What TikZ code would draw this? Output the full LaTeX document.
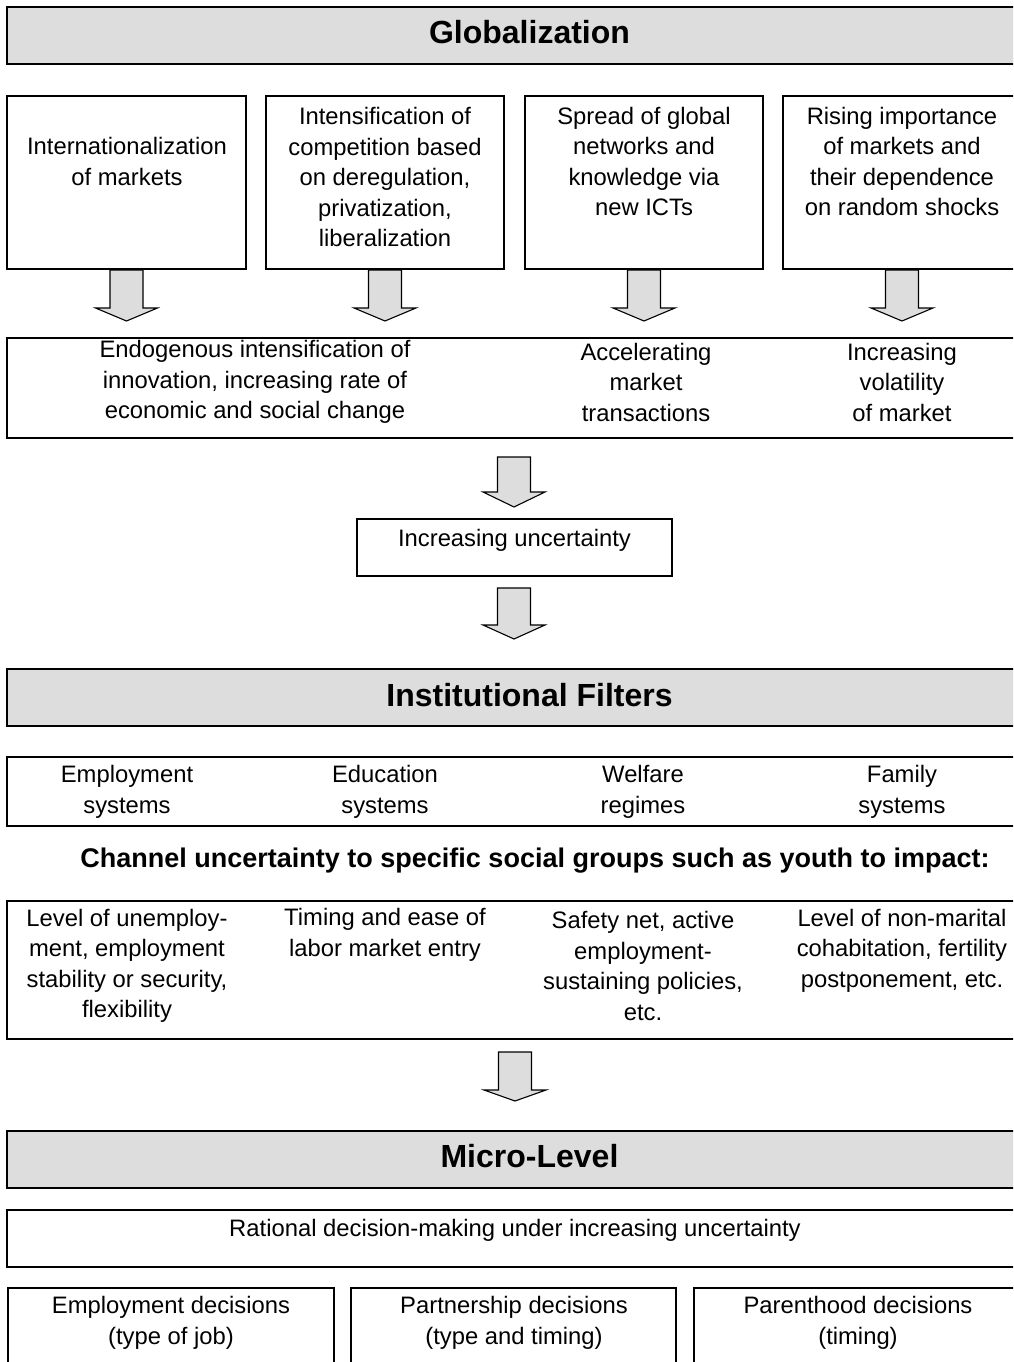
\documentclass[tikz,border=0pt]{standalone}
\usepackage{fontspec}
\setmainfont{Liberation Sans}
\usepackage{xcolor}

\definecolor{boxgray}{RGB}{221,221,221}
\newcommand{\bodyfont}{\fontsize{23.8}{30.5}\selectfont}
\newcommand{\headfont}{\fontsize{32}{38}\selectfont\bfseries}

\tikzset{
  head/.style={draw,line width=2pt,fill=boxgray,inner sep=0pt,font=\headfont,
    minimum width=1045pt,minimum height=57pt,text height=23pt,text depth=6pt},
  frame/.style={draw,line width=2pt,inner sep=0pt},
  thinframe/.style={draw,line width=1.5pt,inner sep=0pt},
  txt/.style={font=\bodyfont,align=center,inner sep=0pt},
  pics/downarrow/.style 2 args={code={
    \draw[fill=boxgray,line width=1.1pt] (-16.5,0) -- (-16.5,#1) -- (-31,#1) -- (0,#1+#2)
      -- (31,#1) -- (16.5,#1) -- (16.5,0) -- cycle;
  }}
}

\begin{document}
\begin{tikzpicture}[x=1pt,y=-1pt]
\clip (0,0) rectangle (1013,1362);

\node[head] (glob) at (529.5,35.5) {Globalization};

\node[frame,minimum width=239pt,minimum height=173pt] (b1) at (126.5,182.5) {};
\node[frame,minimum width=238pt,minimum height=173pt] (b2) at (385,182.5) {};
\node[frame,minimum width=238pt,minimum height=173pt] (b3) at (644,182.5) {};
\node[frame,minimum width=238pt,minimum height=173pt] (b4) at (902,182.5) {};
\node[txt] (t1) at (127,161.5) {Internationalization\\of markets};
\node[txt] (t2) at (385,177) {Intensification of\\competition based\\on deregulation,\\privatization,\\liberalization};
\node[txt] (t3) at (644,161.5) {Spread of global\\networks and\\knowledge via\\new ICTs};
\node[txt] (t4) at (902,161.5) {Rising importance\\of markets and\\their dependence\\on random shocks};

\pic at (b1.south) {downarrow={38}{13}};
\pic at (b2.south) {downarrow={38}{13}};
\pic at (b3.south) {downarrow={38}{13}};
\pic at (b4.south) {downarrow={38}{13}};

\node[frame,minimum width=1045pt,minimum height=100pt] (r2) at (529.5,388) {};
\node[txt] (e1) at (255,382) {Endogenous intensification of\\innovation, increasing rate of\\economic and social change};
\node[txt] (e2) at (646,382) {Accelerating\\market\\transactions};
\node[txt] (e3) at (902,382) {Increasing\\volatility\\of market};

\pic at (514,457) {downarrow={35}{15}};

\node[frame,minimum width=315pt,minimum height=57pt] (unc) at (514.5,547.5) {};
\node[txt] (unct) at (514.5,540) {Increasing uncertainty};

\pic at (514,588) {downarrow={37}{14}};

\node[head] (inst) at (529.5,697.5) {Institutional Filters};

\node[frame,minimum width=1045pt,minimum height=69pt] (filt) at (529.5,791.5) {};
\node[txt] (f1) at (127,792) {Employment\\systems};
\node[txt] (f2) at (385,792) {Education\\systems};
\node[txt] (f3) at (643,792) {Welfare\\regimes};
\node[txt] (f4) at (902,792) {Family\\systems};

\node[font=\fontsize{27}{32}\selectfont\bfseries,inner sep=0pt] (chan) at (535,861)
  {Channel uncertainty to specific social groups such as youth to impact:};

\node[frame,minimum width=1045pt,minimum height=138pt] (imp) at (529.5,970) {};
\node[txt] (i1) at (127,966) {Level of unemploy-\\ment, employment\\stability or security,\\flexibility};
\node[txt] (i2) at (385,935) {Timing and ease of\\labor market entry};
\node[txt] (i3) at (643,966) {Safety net, active\\employment-\\sustaining policies,\\etc.};
\node[txt] (i4) at (902,950.5) {Level of non-marital\\cohabitation, fertility\\postponement, etc.};

\pic at (515,1052) {downarrow={38}{11}};

\node[head] (micro) at (529.5,1159) {Micro-Level};

\node[frame,minimum width=1045pt,minimum height=57pt] (rat) at (529.5,1238.5) {};
\node[txt] (ratt) at (515,1230) {Rational decision-making under increasing uncertainty};

\node[thinframe,minimum width=326pt,minimum height=132pt] (d1) at (171,1354) {};
\node[thinframe,minimum width=325pt,minimum height=132pt] (d2) at (513.5,1354) {};
\node[thinframe,minimum width=326pt,minimum height=132pt] (d3) at (857,1354) {};
\node[txt] (d1t) at (171,1323) {Employment decisions\\(type of job)};
\node[txt] (d2t) at (514,1323) {Partnership decisions\\(type and timing)};
\node[txt] (d3t) at (858,1323) {Parenthood decisions\\(timing)};

\end{tikzpicture}
\end{document}
